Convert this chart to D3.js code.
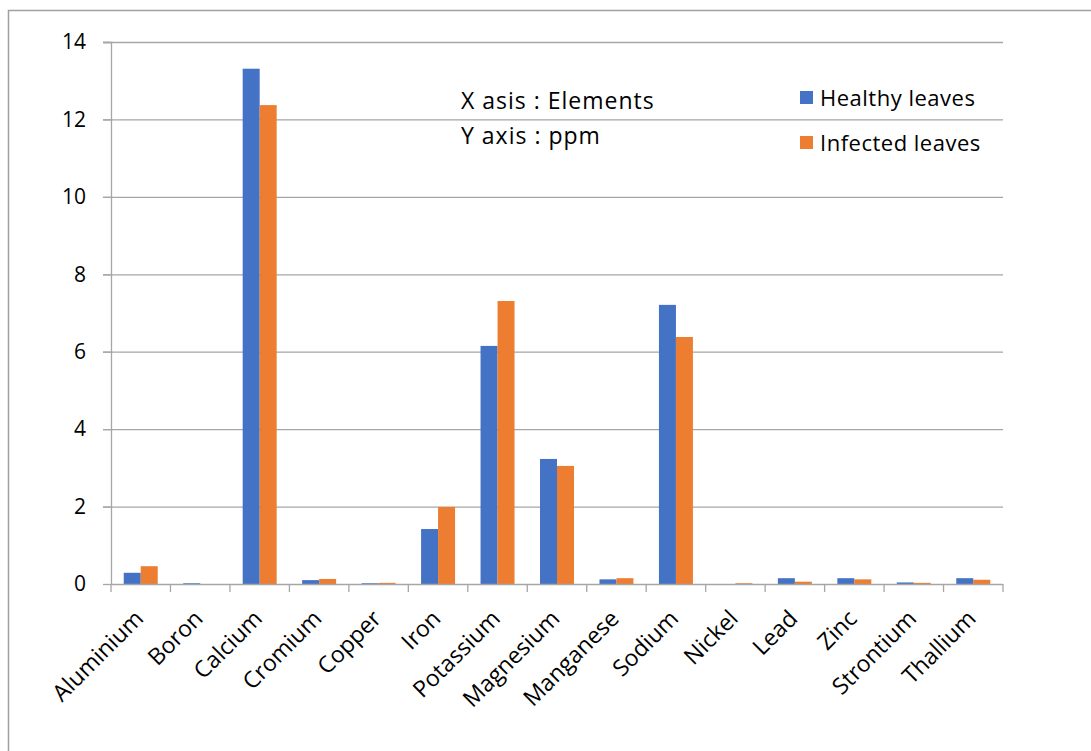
<!DOCTYPE html>
<html><head><meta charset="utf-8">
<script src="https://cdn.jsdelivr.net/npm/d3@7"></script>
<style>body{margin:0;background:#fff}svg{display:block}text{font-family:"Open Sans",sans-serif;fill:#000}</style>
</head><body><svg id="c" width="1091" height="751"></svg>
<script>
const categories=["Aluminium","Boron","Calcium","Cromium","Copper","Iron","Potassium","Magnesium","Manganese","Sodium","Nickel","Lead","Zinc","Strontium","Thallium"];
const healthy=[0.29,0.02,13.31,0.10,0.02,1.42,6.15,3.23,0.12,7.21,0.0,0.15,0.15,0.04,0.15];
const infected=[0.46,0.0,12.37,0.13,0.03,1.99,7.31,3.05,0.15,6.38,0.02,0.06,0.12,0.03,0.11];
const seriesNames=["Healthy leaves","Infected leaves"];
const colors=["#4472c4","#ed7d31"];
const yTicks=[0,2,4,6,8,10,12,14];
const notes=["X asis : Elements","Y axis : ppm"];

const svg=d3.select("#c");
svg.append("path").attr("d","M8.5,751V10.5H1091").attr("fill","none").attr("stroke","#a0a0a0").attr("stroke-width",1.5);
const L=111,R=1003,T=42,B=584;
const x=d3.scaleBand().domain(categories).range([L,R]).paddingInner(0).paddingOuter(0);
const y=d3.scaleLinear().domain([0,14]).range([B,T]);
// gridlines
svg.append("g").selectAll("line").data(yTicks.filter(d=>d>0)).join("line")
 .attr("x1",L-8).attr("x2",R).attr("y1",d=>y(d)+0.5).attr("y2",d=>y(d)+0.5).attr("stroke","#a6a6a6").attr("stroke-width",1.3);
// y axis
const ya=svg.append("g").attr("transform",`translate(${L},0)`).call(d3.axisLeft(y).tickValues(yTicks).tickSize(8).tickPadding(17).tickFormat(d3.format("d")));
ya.select(".domain").attr("stroke","#a6a6a6").attr("stroke-width",1.3).attr("d",`M-8,${T+0.5}H0.5V${B}`);
ya.selectAll(".tick line").attr("stroke","#a6a6a6").attr("stroke-width",1.3);
ya.selectAll(".tick text").attr("font-size",21).attr("font-family","'Open Sans',sans-serif").attr("fill","#000");
// bars
const data=categories.map((c,i)=>({c,v:[healthy[i],infected[i]]}));
const bw=x.bandwidth()/3.5;
const g=svg.append("g").selectAll("g").data(data).join("g").attr("transform",d=>`translate(${x(d.c)},0)`);
g.selectAll("rect").data(d=>d.v.map((v,k)=>({v,k}))).join("rect")
 .attr("x",d=>x.bandwidth()*0.75/3.5+d.k*bw).attr("width",bw)
 .attr("y",d=>y(d.v)).attr("height",d=>B-y(d.v)).attr("fill",d=>colors[d.k]);
// x axis
const xa=svg.append("g").attr("transform",`translate(0,${B})`).call(d3.axisBottom(x).tickSize(0).tickFormat(""));
xa.select(".domain").attr("stroke","#a6a6a6").attr("stroke-width",1.5).attr("d",`M${L},0.5H${R}`);
svg.append("g").selectAll("line").data(d3.range(categories.length+1)).join("line")
 .attr("x1",i=>L+i*x.bandwidth()).attr("x2",i=>L+i*x.bandwidth()).attr("y1",B).attr("y2",B+8).attr("stroke","#a6a6a6").attr("stroke-width",1.3);
svg.append("g").selectAll("text").data(categories).join("text")
 .attr("transform",d=>`translate(${x(d)+x.bandwidth()/2+4},${B+36}) rotate(-45)`)
 .attr("text-anchor","end").attr("font-size",23).text(d=>d);
// notes
svg.append("g").selectAll("text").data(notes).join("text").attr("x",461).attr("y",(d,i)=>109+i*35).attr("font-size",23).attr("letter-spacing",1).text(d=>d);
// legend
const lg=svg.append("g").selectAll("g").data(seriesNames).join("g").attr("transform",(d,i)=>`translate(800,${91+i*45})`);
lg.append("rect").attr("width",13).attr("height",13).attr("fill",(d,i)=>colors[i]);
lg.append("text").attr("x",20).attr("y",15).attr("font-size",22).attr("letter-spacing",0.5).text(d=>d);
</script></body></html>
